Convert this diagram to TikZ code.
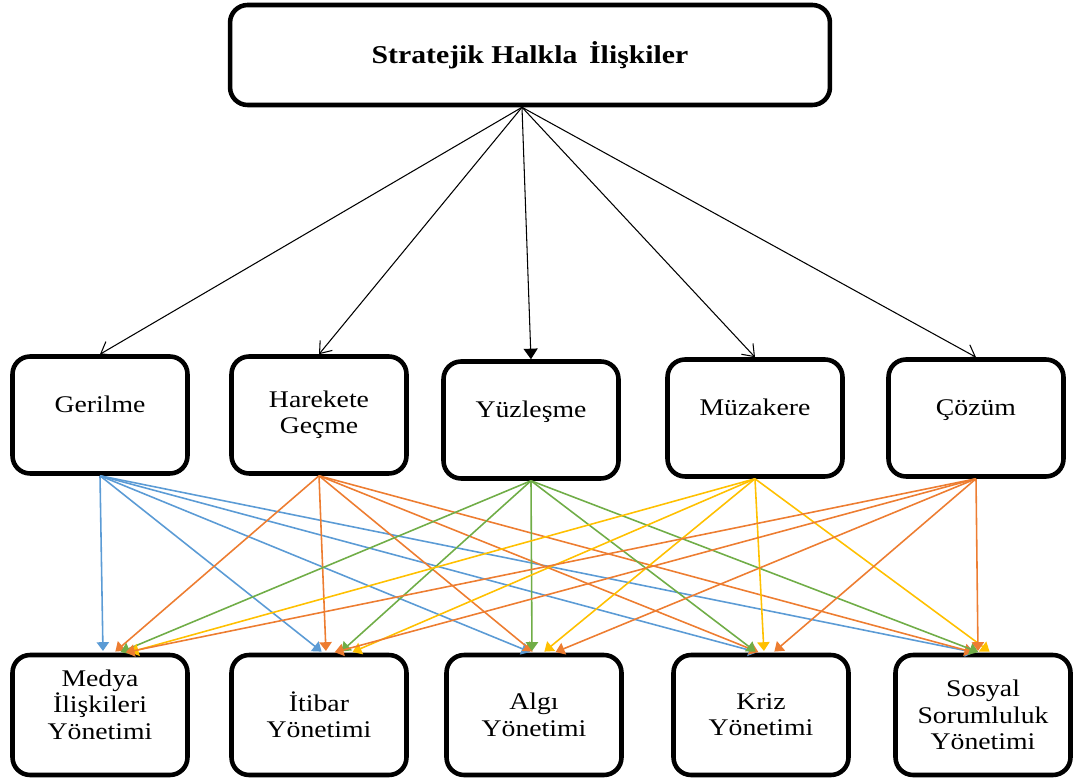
\documentclass[tikz,border=0pt]{standalone}
\usepackage{fontspec}
\setmainfont{Liberation Serif}[FakeStretch=1.16]
\usetikzlibrary{arrows.meta, positioning}

\definecolor{lineblue}{RGB}{91,155,213}
\definecolor{lineorange}{RGB}{237,125,49}
\definecolor{linegreen}{RGB}{112,173,71}
\definecolor{linegold}{RGB}{255,192,0}

\tikzset{
  box/.style={draw, line width=2.6pt, rounded corners=10pt, align=center,
    inner sep=0pt, font=\fontsize{13.6}{15}\selectfont},
  stagebox/.style={box, minimum width=3.5cm, minimum height=2.34cm},
  areabox/.style={box, minimum width=3.5cm, minimum height=2.4cm},
  lifted/.style={text depth=12pt},
  link/.style={line width=0.9pt, shorten >=1pt, -{Triangle[length=5pt,width=7pt]}},
  openlink/.style={line width=0.6pt, -{Straight Barb[length=6pt,width=9pt]}},
}

\begin{document}
\begin{tikzpicture}[x=0.02cm, y=-0.02cm]
    \useasboundingbox (0,0) rectangle (1079,780);

    % Main box
    \node[box, minimum width=12cm, minimum height=2cm,
      font=\fontsize{14.6}{17}\selectfont\bfseries] (shi) at (530,55)
      {Stratejik Halkla \,İlişkiler};
    \coordinate (hub) at ([xshift=-0.16cm]shi.south);

    % Stages
    \node[stagebox, lifted] (gerilme) at (100,415) {Gerilme};
    \node[stagebox] (harekete) at (319,415) {Harekete\\Geçme};
    \node[stagebox, lifted] (yuzlesme) at (531,420) {Yüzleşme};
    \node[stagebox, lifted] (muzakere) at (755,418) {Müzakere};
    \node[stagebox, lifted] (cozum) at (976,418) {Çözüm};

    % Management areas
    \node[areabox] (medya) at (100,715) {Medya\\İlişkileri\\Yönetimi\rule[-12pt]{0pt}{0pt}};
    \node[areabox] (itibar) at (319,715) {İtibar\\Yönetimi};
    \node[areabox] (algi) at (534,715) {Algı\\Yönetimi};
    \node[areabox] (kriz) at (761,715) {Kriz\\Yönetimi};
    \node[areabox] (sosyal) at (983,715) {Sosyal\\Sorumluluk\\Yönetimi};

    % Main box to stages
    \draw[openlink] (hub) -- (gerilme.north);
    \draw[openlink] (hub) -- (harekete.north);
    \draw[line width=0.6pt, -{Triangle[length=6pt,width=8pt]}] (hub) -- (yuzlesme.north);
    \draw[openlink] (hub) -- (muzakere.north);
    \draw[openlink] (hub) -- (cozum.north);

    % Stages to areas
    \foreach \dst/\dx in {medya/3, itibar/4, algi/-2, kriz/-2, sosyal/-7}
      \draw[link, lineblue] (gerilme.south) -- ([xshift=\dx*0.02cm]\dst.north);
    \foreach \dst/\dx in {medya/14, itibar/7, algi/0, kriz/-1, sosyal/-8}
      \draw[link, lineorange] (harekete.south) -- ([xshift=\dx*0.02cm]\dst.north);
    \foreach \dst/\dx in {medya/19, itibar/21, algi/-2, kriz/-4, sosyal/-3}
      \draw[link, linegreen] (yuzlesme.south) -- ([xshift=\dx*0.02cm]\dst.north);
    \foreach \dst/\dx in {medya/28, itibar/32, algi/9, kriz/3, sosyal/8}
      \draw[link, linegold] (muzakere.south) -- ([xshift=\dx*0.02cm]\dst.north);
    \foreach \dst/\dx in {medya/24, itibar/14, algi/20, kriz/12, sosyal/-5}
      \draw[link, lineorange] (cozum.south) -- ([xshift=\dx*0.02cm]\dst.north);
\end{tikzpicture}
\end{document}
